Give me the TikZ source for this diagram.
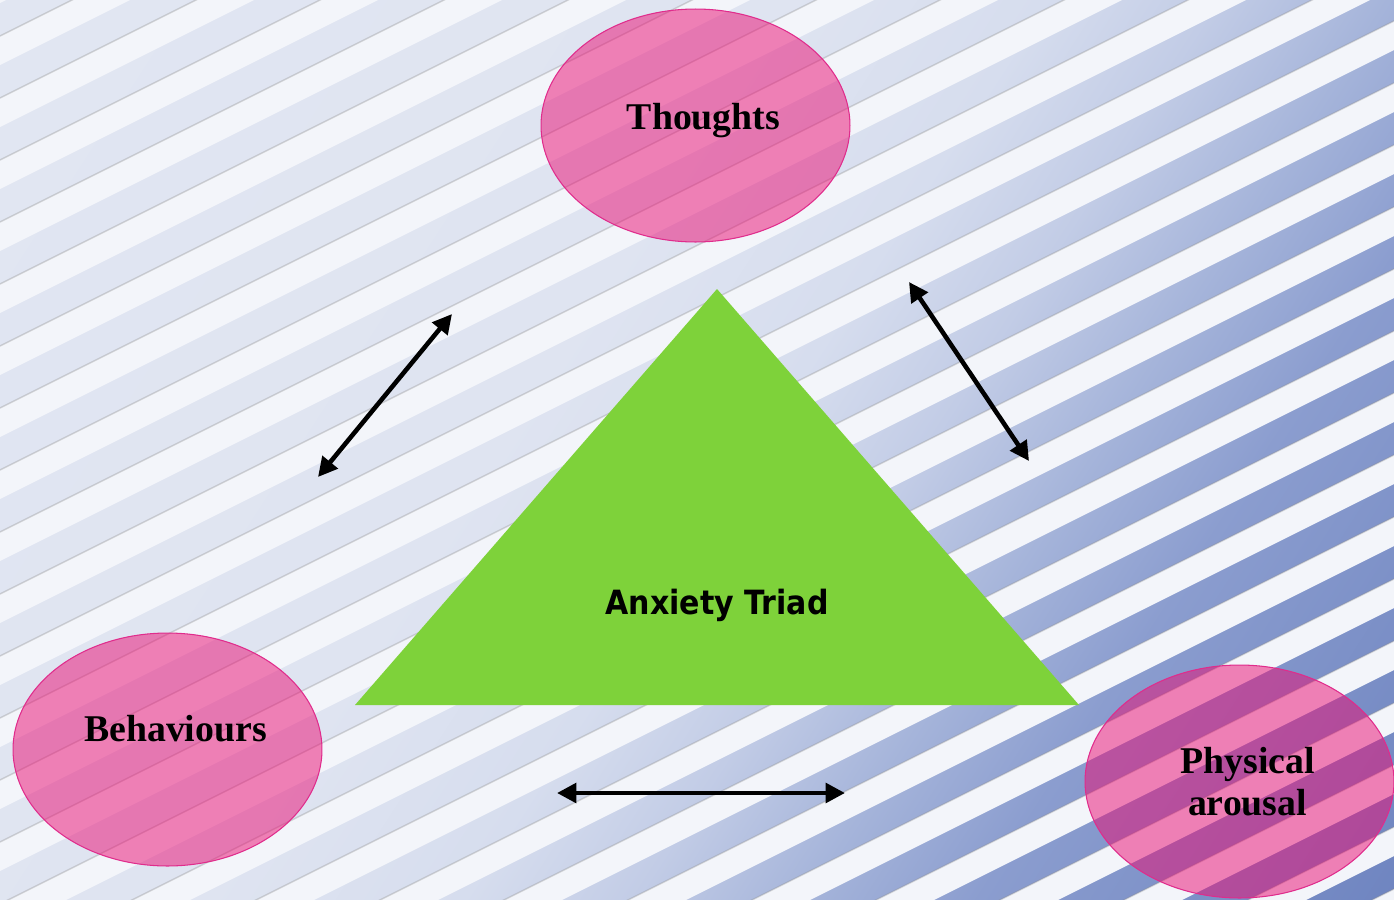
\documentclass[tikz,border=0pt]{standalone}
\usepackage{fontspec}
\setmainfont{Liberation Serif}
\newfontfamily\triadfont{DejaVu Sans}[FakeStretch=0.9]
\usetikzlibrary{arrows.meta,shapes.geometric}

\definecolor{bgA}{HTML}{E1E6F2}
\definecolor{bgB}{HTML}{DFE4F1}
\definecolor{bgC}{HTML}{D6DDEE}
\definecolor{bgD}{HTML}{C2CCE6}
\definecolor{bgE}{HTML}{A5B4DA}
\definecolor{bgF}{HTML}{8B9DCF}
\definecolor{bgG}{HTML}{6E84C0}
\definecolor{bandlight}{HTML}{F3F5FA}
\definecolor{bubblepink}{HTML}{EB0B72}
\definecolor{bubbleline}{HTML}{E02C8C}
\definecolor{triadgreen}{HTML}{7ED23A}

\pgfdeclarehorizontalshading{bgfade}{100bp}{color(0bp)=(bgA); color(15bp)=(bgA);
  color(43bp)=(bgB); color(52bp)=(bgC); color(58bp)=(bgD); color(64bp)=(bgE);
  color(70bp)=(bgF); color(85bp)=(bgG); color(100bp)=(bgG)}

\begin{document}
\begin{tikzpicture}[
    x=0.02cm, y=-0.02cm,
    bubble/.style={ellipse, draw=bubbleline, line width=0.6pt, fill=bubblepink,
                   fill opacity=0.5, minimum width=6.18cm, minimum height=4.66cm,
                   inner sep=0pt},
    bubbletext/.style={align=center, inner sep=0pt,
                       font=\fontsize{21.5}{24}\selectfont\bfseries},
    band/.style={fill=bandlight},
    bandedge/.style={draw=black!45, draw opacity=0.35, line width=0.8pt},
    arr/.style={{Triangle[length=11pt,width=11pt]}-{Triangle[length=11pt,width=11pt]},
                line width=2.6pt}
]
\useasboundingbox (0,0) rectangle (1394,900);
\begin{scope}
  \clip (0,0) rectangle (1394,900);
  \path[shading=bgfade, shading angle=-32.9] (0,0) rectangle (1394,900);
  \foreach \k in {-1,...,25}{
    \pgfmathsetmacro\ctop{36+62*\k}
    \pgfmathsetmacro\cbot{\ctop+29}
    \fill[band] (0,\ctop) -- (1394,\ctop-697) -- (1394,\cbot-697) -- (0,\cbot) -- cycle;
    \draw[bandedge] (0,\ctop) -- (1394,\ctop-697);
  }
\end{scope}

\fill[triadgreen] (717,289) coordinate (apex) -- (355,705) coordinate (baseL)
  -- (1079,705) coordinate (baseR) -- cycle;
\node[font=\triadfont\bfseries\fontsize{19}{22}\selectfont, anchor=base] (triad)
  at (717,614) {Anxiety Triad};

\node[bubble] (thoughts) at (695.5,125.5) {};
\node[bubble] (behaviours) at (167.5,749.5) {};
\node[bubble] (arousal) at (1239.5,781.5) {};
\node[bubbletext] (thoughtsT) at ([shift={(8,-5)}]thoughts) {Thoughts};
\node[bubbletext] (behavioursT) at ([shift={(8,-21)}]behaviours) {Behaviours};
\node[bubbletext] (arousalT) at ([shift={(8,0)}]arousal) {Physical\\arousal};

\coordinate (lowL) at (318,477);
\coordinate (upL) at (452,314);
\coordinate (upR) at (909,282);
\coordinate (lowR) at (1029,461);
\coordinate (botL) at (557,793);
\coordinate (botR) at (845,793);

\draw[arr] (lowL) -- (upL);
\draw[arr] (upR) -- (lowR);
\draw[arr] (botL) -- (botR);
\end{tikzpicture}
\end{document}
